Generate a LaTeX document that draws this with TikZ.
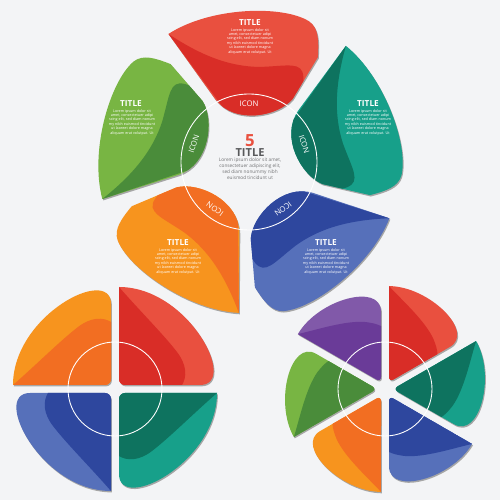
\documentclass[tikz,border=0pt]{standalone}
\usepackage{fontspec}
\setmainfont{Open Sans}
\usetikzlibrary{calc}

\definecolor{bgray}{HTML}{F3F4F6}
\definecolor{redL}{HTML}{E9503F}
\definecolor{redD}{HTML}{D92D27}
\definecolor{orangeL}{HTML}{F7941E}
\definecolor{orangeD}{HTML}{F26E22}
\definecolor{greenL}{HTML}{78B543}
\definecolor{greenD}{HTML}{4A8C3A}
\definecolor{tealL}{HTML}{17A08A}
\definecolor{tealD}{HTML}{0E735F}
\definecolor{blueL}{HTML}{5670BA}
\definecolor{blueD}{HTML}{2E479E}
\definecolor{purpleL}{HTML}{8159A9}
\definecolor{purpleD}{HTML}{6A3B98}
\definecolor{textgray}{HTML}{58595B}

% petal outlines, local coordinates
\newcommand{\bigpath}{(-83,132) .. controls (-40,160) and (35,162) .. (62,145) .. controls (72,138) and (72,125) .. (71,108) -- (45,65) .. controls (30,47) and (-15,38) .. (-35,65) -- cycle}
\newcommand{\bigdark}{(-83,132) .. controls (-50,110) and (-20,98) .. (12,98) .. controls (40,99) and (55,104) .. (56,88) .. controls (57,78) and (50,68) .. (42,58) -- (0,20) -- cycle}
\newcommand{\quadpath}{(0,98) [rounded corners=3.4pt] -- (0,0) -- (75,0) [sharp corners] .. controls (120,0) and (70,98) .. cycle}
\newcommand{\quaddark}{(0,98) .. controls (20,75) and (45,50) .. (58,33) .. controls (68,20) and (68,8) .. (63,0) -- (0,0) -- cycle}
\newcommand{\hexpath}{(48,83.1) [rounded corners=3pt] -- (0,0) -- (65,0) [sharp corners] .. controls (100,0) and (82.6,63) .. cycle}
\newcommand{\hexdark}{(48,83.1) .. controls (52,65) and (62,35) .. (60,15) .. controls (59,8) and (58,4) .. (56,0) -- (0,0) -- cycle}

% center, rotation, extra transform, outline, dark part, colour
\newcommand{\flowerpetal}[6]{%
  \fill[petalshadow, shift={(#1)}, shift={(0.9,-1.4)}, rotate=#2, #3] #4;
  \begin{scope}[shift={(#1)}, rotate=#2, #3]
    \fill[#6L] #4;
    \clip #4;
    \fill[#6D] #5;
  \end{scope}
}

\tikzset{
  petalshadow/.style={fill=black!35},
  ring/.style={draw=white, line width=0.5pt},
  titletext/.style={text=white, font=\bfseries\fontsize{4.7}{5}\selectfont, inner sep=0pt},
  bodytext/.style={text=white, font=\fontsize{2.1}{2.5}\selectfont, align=center, inner sep=0pt, anchor=north},
  icontext/.style={text=white, font=\fontsize{4.4}{5}\selectfont, inner sep=0pt},
}

\begin{document}
\begin{tikzpicture}[x=0.02cm, y=0.02cm]
	\fill[bgray] (0,0) rectangle (500,500);
	\useasboundingbox (0,0) rectangle (500,500);
	\coordinate (c5) at (249,338);
	\coordinate (c4) at (115,111);
	\coordinate (c6) at (385,111);

	% five petals
	\flowerpetal{c5}{0}{scale=0.97}{\bigpath}{\bigdark}{red}
	\flowerpetal{c5}{72}{scale=0.97}{\bigpath}{\bigdark}{green}
	\flowerpetal{c5}{144}{scale=0.97}{\bigpath}{\bigdark}{orange}
	\flowerpetal{c5}{216}{scale=0.97}{\bigpath}{\bigdark}{blue}
	\flowerpetal{c5}{288}{scale=0.97}{\bigpath}{\bigdark}{teal}
	\draw[ring] (c5) circle (68);
	\foreach \a in {0,72,144,216,288}
		\node[icontext, rotate=\a] (icon\a) at ($(c5)+(90+\a:58)$) {ICON};

	% texts in the petals
	\node[titletext] (title1) at (250,477) {TITLE};
	\node[bodytext] (body1) at (250,472) {Lorem ipsum dolor sit\\amet, consectetuer adipi\\scing elit, sed diam nonum\\my nibh euismod tincidunt\\ut laoreet dolore magna\\aliquam erat volutpat. Ut};
	\node[titletext] (title2) at (131,396) {TITLE};
	\node[bodytext] (body2) at (132,391) {Lorem ipsum dolor sit\\amet, consectetuer adipi\\scing elit, sed diam nonum\\my nibh euismod tincidunt\\ut laoreet dolore magna\\aliquam erat volutpat. Ut};
	\node[titletext] (title3) at (368,396) {TITLE};
	\node[bodytext] (body3) at (368,391) {Lorem ipsum dolor sit\\amet, consectetuer adipi\\scing elit, sed diam nonum\\my nibh euismod tincidunt\\ut laoreet dolore magna\\aliquam erat volutpat. Ut};
	\node[titletext] (title4) at (178,257) {TITLE};
	\node[bodytext] (body4) at (178,252) {Lorem ipsum dolor sit\\amet, consectetuer adipi\\scing elit, sed diam nonum\\my nibh euismod tincidunt\\ut laoreet dolore magna\\aliquam erat volutpat. Ut};
	\node[titletext] (title5) at (326,257) {TITLE};
	\node[bodytext] (body5) at (326,252) {Lorem ipsum dolor sit\\amet, consectetuer adipi\\scing elit, sed diam nonum\\my nibh euismod tincidunt\\ut laoreet dolore magna\\aliquam erat volutpat. Ut};

	% middle
	\node[text=redL, font=\bfseries\fontsize{9.5}{10}\selectfont, inner sep=0pt] (num) at (250,359) {5};
	\node[text=textgray, font=\bfseries\fontsize{6.3}{7}\selectfont, inner sep=0pt] (ctitle) at (250,347) {TITLE};
	\node[text=textgray!85, font=\fontsize{2.7}{3.3}\selectfont, align=center, inner sep=0pt, anchor=north] (cbody) at (250,342) {Lorem ipsum dolor sit amet,\\consectetuer adipiscing elit,\\sed diam nonummy nibh\\euismod tincidunt ut};

	% four petals
	\flowerpetal{c4}{0}{shift={(4,4)}}{\quadpath}{\quaddark}{red}
	\flowerpetal{c4}{90}{shift={(4,4)}}{\quadpath}{\quaddark}{orange}
	\flowerpetal{c4}{180}{shift={(4,4)}}{\quadpath}{\quaddark}{blue}
	\flowerpetal{c4}{270}{shift={(4,4)}}{\quadpath}{\quaddark}{teal}
	\draw[ring] (c4) circle (47);

	% six petals
	\flowerpetal{c6}{30}{shift={(30:8)}}{\hexpath}{\hexdark}{red}
	\flowerpetal{c6}{-30}{shift={(30:8)}}{\hexpath}{\hexdark}{teal}
	\flowerpetal{c6}{-90}{shift={(30:8)}}{\hexpath}{\hexdark}{blue}
	\flowerpetal{c6}{-150}{shift={(30:8)}}{\hexpath}{\hexdark}{orange}
	\flowerpetal{c6}{150}{shift={(30:8)}}{\hexpath}{\hexdark}{green}
	\flowerpetal{c6}{90}{shift={(30:8)}}{\hexpath}{\hexdark}{purple}
	\draw[ring] (c6) circle (47);
\end{tikzpicture}
\end{document}
